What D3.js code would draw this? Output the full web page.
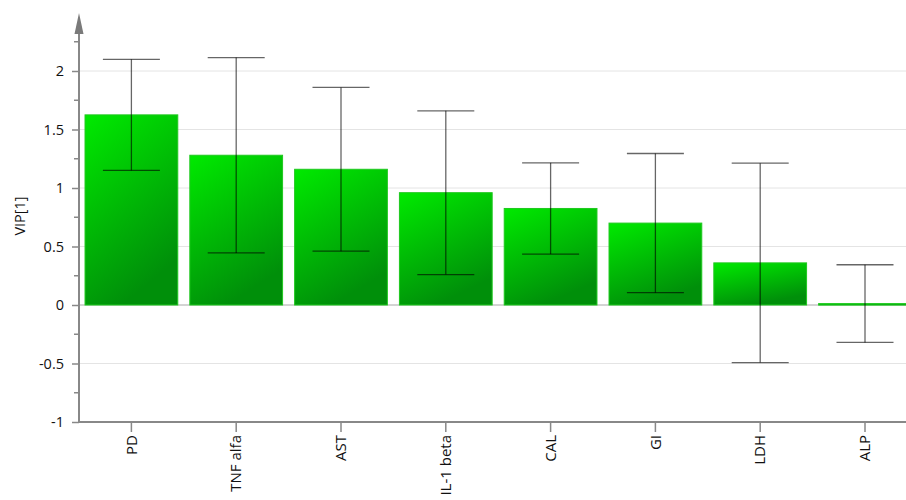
<!DOCTYPE html>
<html>
<head>
<meta charset="utf-8">
<script src="https://cdn.jsdelivr.net/npm/d3@7"></script>
<style>
  html, body { margin: 0; padding: 0; background: #fff; }
  svg { display: block; }
  svg text { font-family: "Open Sans", "Noto Sans", sans-serif; }
</style>
</head>
<body>
<svg id="chart" width="906" height="500"></svg>
<script>
// VIP scores per variable with their confidence half-widths
const categories = ["PD", "TNF alfa", "AST", "IL-1 beta", "CAL", "GI", "LDH", "ALP"];
const vipValues = [1.625, 1.28, 1.16, 0.96, 0.825, 0.70, 0.36, 0.012];
const vipErrors = [0.475, 0.835, 0.70, 0.70, 0.39, 0.595, 0.852, 0.332];
const yTicks = [-1, -0.5, 0, 0.5, 1, 1.5, 2];
const yMinorTicks = [-0.75, -0.25, 0.25, 0.75, 1.25, 1.75, 2.25];
const yLabel = "VIP[1]";

const svg = d3.select("#chart");
const axisX = 79;
const plotBottom = 422;
const fontFamily = "'Open Sans', 'Noto Sans', sans-serif";

const x = d3.scaleBand()
  .domain(categories)
  .range([axisX, axisX + 8 * 104.8])
  .paddingInner(0.115)
  .paddingOuter(0.0575);

const y = d3.scaleLinear().domain([-1, 2]).range([plotBottom, 71]);

// bar fill gradient: bright green at top-left, darker toward the bottom-right
const defs = svg.append("defs");
const grad = defs.append("linearGradient")
  .attr("id", "barGrad")
  .attr("x1", "0").attr("y1", "0")
  .attr("x2", "0.4").attr("y2", "1");
grad.append("stop").attr("offset", "0%").attr("stop-color", "#00ea00");
grad.append("stop").attr("offset", "100%").attr("stop-color", "#008f0a");

// horizontal grid lines
svg.append("g")
  .selectAll("line")
  .data(yTicks.filter(t => t !== -1 && t !== 0))
  .join("line")
  .attr("x1", axisX).attr("x2", 906)
  .attr("y1", d => y(d)).attr("y2", d => y(d))
  .attr("stroke", "#e4e4e4").attr("stroke-width", 1);

// zero line
svg.append("line")
  .attr("x1", axisX).attr("x2", 906)
  .attr("y1", y(0)).attr("y2", y(0))
  .attr("stroke", "#a8a8a8").attr("stroke-width", 1);

// bars
svg.append("g")
  .selectAll("rect")
  .data(categories)
  .join("rect")
  .attr("x", d => x(d))
  .attr("width", x.bandwidth())
  .attr("y", (d, i) => Math.min(y(vipValues[i]), y(0)))
  .attr("height", (d, i) => Math.max(Math.abs(y(0) - y(vipValues[i])), 1.5))
  .attr("fill", "url(#barGrad)")
  .attr("stroke", "#1fc81f")
  .attr("stroke-width", 1);

// error bars
const capHalf = 28.5;
const eg = svg.append("g")
  .attr("stroke", "#000")
  .attr("stroke-opacity", 0.6)
  .attr("stroke-width", 1.3);
categories.forEach((c, i) => {
  const cx = x(c) + x.bandwidth() / 2;
  const hi = y(vipValues[i] + vipErrors[i]);
  const lo = y(vipValues[i] - vipErrors[i]);
  eg.append("line").attr("x1", cx).attr("x2", cx).attr("y1", hi).attr("y2", lo);
  eg.append("line").attr("x1", cx - capHalf).attr("x2", cx + capHalf).attr("y1", hi).attr("y2", hi);
  eg.append("line").attr("x1", cx - capHalf).attr("x2", cx + capHalf).attr("y1", lo).attr("y2", lo);
});

// y axis
const yAxis = d3.axisLeft(y)
  .tickValues(yTicks)
  .tickSize(7)
  .tickPadding(8)
  .tickFormat(d => String(d));
const gy = svg.append("g")
  .attr("transform", `translate(${axisX},0)`)
  .call(yAxis)
  .attr("font-family", fontFamily);
gy.select(".domain").remove();
gy.selectAll(".tick line").attr("stroke", "#888").attr("stroke-width", 1.5);
gy.selectAll(".tick text").attr("fill", "#111").style("font-size", "14.5px");

// minor ticks
svg.append("g")
  .selectAll("line")
  .data(yMinorTicks)
  .join("line")
  .attr("x1", axisX - 5).attr("x2", axisX)
  .attr("y1", d => y(d)).attr("y2", d => y(d))
  .attr("stroke", "#888").attr("stroke-width", 1.5);

// y axis line with arrow head
svg.append("line")
  .attr("x1", axisX).attr("x2", axisX)
  .attr("y1", 30).attr("y2", plotBottom)
  .attr("stroke", "#888").attr("stroke-width", 2);
svg.append("path")
  .attr("d", `M${axisX},13 L${axisX - 4.5},34 L${axisX + 4.5},34 Z`)
  .attr("fill", "#7a7a7a");

// x axis
const xAxis = d3.axisBottom(x).tickSize(10).tickPadding(0).tickSizeOuter(0);
const gx = svg.append("g")
  .attr("transform", `translate(0,${plotBottom})`)
  .call(xAxis)
  .attr("font-family", fontFamily);
gx.select(".domain").remove();
gx.selectAll(".tick line").attr("stroke", "#888").attr("stroke-width", 1.5);
gx.selectAll(".tick text")
  .attr("fill", "#111")
  .style("font-size", "15px")
  .attr("text-anchor", "end")
  .attr("transform", "translate(0,13) rotate(-90)")
  .attr("x", 0).attr("y", 0).attr("dy", "0.35em");
svg.append("line")
  .attr("x1", axisX - 1).attr("x2", 906)
  .attr("y1", plotBottom).attr("y2", plotBottom)
  .attr("stroke", "#888").attr("stroke-width", 2);

// y axis title
svg.append("text")
  .attr("transform", "translate(20,216) rotate(-90)")
  .attr("text-anchor", "middle")
  .attr("dy", "0.35em")
  .attr("fill", "#111")
  .style("font-size", "14.5px")
  .text(yLabel);
</script>
</body>
</html>
